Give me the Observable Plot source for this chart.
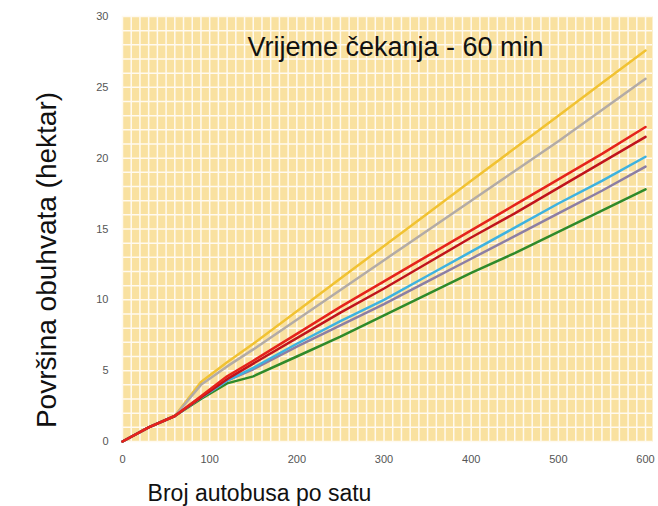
<!DOCTYPE html>
<html>
<head>
<meta charset="utf-8">
<script src="https://cdn.jsdelivr.net/npm/d3@7"></script>
<script src="https://cdn.jsdelivr.net/npm/@observablehq/plot@0.6"></script>
<style>
  html, body { margin: 0; padding: 0; background: #ffffff; }
  #chart { width: 658px; height: 506px; }
</style>
</head>
<body>
<div id="chart"></div>
<script>
// Broj autobusa po satu (x values)
const buses = [0, 30, 60, 90, 120, 150, 200, 250, 300, 350, 400, 450, 500, 550, 600];

// Površina obuhvata (hektar) per series
const seriesA = [0, 1.0, 1.8, 4.2, 5.6, 6.9, 9.2, 11.5, 13.8, 16.1, 18.4, 20.7, 23.0, 25.3, 27.6]; // yellow
const seriesB = [0, 1.0, 1.8, 4.0, 5.3, 6.5, 8.6, 10.7, 12.8, 14.9, 17.0, 19.1, 21.2, 23.4, 25.6]; // gray
const seriesC = [0, 1.0, 1.8, 3.2, 4.6, 5.7, 7.6, 9.5, 11.3, 13.1, 14.9, 16.7, 18.5, 20.3, 22.2]; // red
const seriesD = [0, 1.0, 1.8, 3.1, 4.4, 5.5, 7.3, 9.1, 10.8, 12.6, 14.4, 16.1, 17.9, 19.7, 21.5]; // dark red
const seriesE = [0, 1.0, 1.8, 3.1, 4.3, 5.2, 6.9, 8.5, 10.0, 11.7, 13.4, 15.1, 16.8, 18.4, 20.1]; // light blue
const seriesF = [0, 1.0, 1.8, 3.1, 4.3, 5.1, 6.7, 8.2, 9.7, 11.3, 12.9, 14.5, 16.1, 17.7, 19.4]; // purple
const seriesG = [0, 1.0, 1.8, 3.0, 4.1, 4.6, 6.0, 7.4, 8.9, 10.4, 11.9, 13.3, 14.8, 16.3, 17.8]; // green

const xTicks = [0, 100, 200, 300, 400, 500, 600];
const yTicks = [0, 5, 10, 15, 20, 25, 30];
const xGrid = d3.range(0, 610, 10);
const yGrid = d3.range(0, 31, 1);

const title = "Vrijeme čekanja - 60 min";
const xLabel = "Broj autobusa po satu";
const yLabel = "Površina obuhvata (hektar)";

// drawing order (bottom to top) and colours
const series = [
  {name: "A", values: seriesA, color: "#f1c232"},
  {name: "B", values: seriesB, color: "#b3aba6"},
  {name: "G", values: seriesG, color: "#2f8a2a"},
  {name: "F", values: seriesF, color: "#8c7ea4"},
  {name: "E", values: seriesE, color: "#3db2e0"},
  {name: "D", values: seriesD, color: "#c0141c"},
  {name: "C", values: seriesC, color: "#e5231b"}
];

const rows = series.flatMap(s => buses.map((b, i) => ({x: b, y: s.values[i], s: s.name})));

const font = "Liberation Sans, Arial, sans-serif";

const chart = Plot.plot({
  width: 658,
  height: 506,
  marginLeft: 122,
  marginRight: 6,
  marginTop: 16,
  marginBottom: 65,
  style: {fontFamily: font, background: "transparent"},
  x: {domain: [0, 608], ticks: xTicks, label: null},
  y: {domain: [0, 30], ticks: yTicks, label: null},
  color: {type: "ordinal", domain: series.map(s => s.name), range: series.map(s => s.color)},
  marks: [
    Plot.frame({fill: "#f9e1a0", stroke: "none"}),
    Plot.ruleX(xGrid, {stroke: "#fffaf0", strokeWidth: 1.5}),
    Plot.ruleY(yGrid, {stroke: "#fffaf0", strokeWidth: 1.5}),
    Plot.axisX({ticks: xTicks, tickSize: 0, tickPadding: 14, fontSize: 11, color: "#555", label: null}),
    Plot.axisY({ticks: yTicks, tickSize: 0, tickPadding: 14, fontSize: 11, color: "#555", label: null}),
    Plot.line(rows, {x: "x", y: "y", z: "s", stroke: "s", strokeWidth: 2.5, curve: "linear"}),
    Plot.text([title], {frameAnchor: "top", text: d => d, dx: 8, dy: 31, lineAnchor: "middle", fontSize: 27, fill: "#111"}),
    Plot.text([xLabel], {frameAnchor: "bottom", text: d => d, dx: -128, dy: 52, lineAnchor: "middle", fontSize: 23, fill: "#111"}),
    Plot.text([yLabel], {frameAnchor: "left", text: d => d, rotate: -90, textAnchor: "middle", dx: -75, dy: 31, lineAnchor: "middle", fontSize: 28, fill: "#111"})
  ]
});
document.getElementById("chart").appendChild(chart);
</script>
</body>
</html>
